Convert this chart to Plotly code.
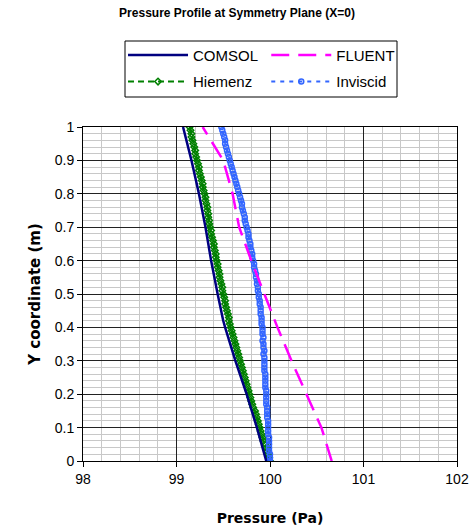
import plotly.graph_objects as go

# ---- data ----
comsol_y = [0.0, 0.1, 0.2, 0.3, 0.4, 0.42, 0.5, 0.6, 0.7, 0.8, 0.9, 1.0]
comsol_p = [99.96, 99.86, 99.75, 99.63, 99.52, 99.50, 99.44, 99.37, 99.31, 99.24, 99.16, 99.07]

fluent_y = [0.0, 0.1, 0.2, 0.3, 0.4, 0.5, 0.6, 0.7, 0.8, 0.9, 1.0]
fluent_p = [100.66, 100.55, 100.39, 100.23, 100.08, 99.94, 99.80, 99.67, 99.60, 99.50, 99.28]

dense_y = [0.00, 0.01, 0.02, 0.03, 0.04, 0.05, 0.06, 0.07, 0.08, 0.09,
           0.10, 0.11, 0.12, 0.13, 0.14, 0.15, 0.16, 0.17, 0.18, 0.19,
           0.20, 0.21, 0.22, 0.23, 0.24, 0.25, 0.26, 0.27, 0.28, 0.29,
           0.30, 0.31, 0.32, 0.33, 0.34, 0.35, 0.36, 0.37, 0.38, 0.39,
           0.40, 0.41, 0.42, 0.43, 0.44, 0.45, 0.46, 0.47, 0.48, 0.49,
           0.50, 0.51, 0.52, 0.53, 0.54, 0.55, 0.56, 0.57, 0.58, 0.59,
           0.60, 0.61, 0.62, 0.63, 0.64, 0.65, 0.66, 0.67, 0.68, 0.69,
           0.70, 0.71, 0.72, 0.73, 0.74, 0.75, 0.76, 0.77, 0.78, 0.79,
           0.80, 0.81, 0.82, 0.83, 0.84, 0.85, 0.86, 0.87, 0.88, 0.89,
           0.90, 0.91, 0.92, 0.93, 0.94, 0.95, 0.96, 0.97, 0.98, 0.99, 1.00]

hiemenz_p = [100.00, 99.99, 99.98, 99.97, 99.96, 99.95, 99.93, 99.92, 99.91, 99.90,
             99.89, 99.88, 99.87, 99.86, 99.85, 99.84, 99.82, 99.81, 99.80, 99.79,
             99.78, 99.77, 99.76, 99.75, 99.74, 99.73, 99.72, 99.71, 99.70, 99.69,
             99.68, 99.67, 99.66, 99.65, 99.64, 99.63, 99.62, 99.61, 99.60, 99.59,
             99.58, 99.57, 99.56, 99.56, 99.55, 99.54, 99.53, 99.52, 99.52, 99.51,
             99.50, 99.49, 99.49, 99.48, 99.47, 99.46, 99.46, 99.45, 99.44, 99.44,
             99.43, 99.42, 99.42, 99.41, 99.40, 99.40, 99.39, 99.38, 99.37, 99.37,
             99.36, 99.35, 99.35, 99.34, 99.34, 99.33, 99.33, 99.32, 99.31, 99.31,
             99.30, 99.29, 99.28, 99.28, 99.27, 99.26, 99.25, 99.24, 99.24, 99.23,
             99.22, 99.21, 99.20, 99.20, 99.19, 99.18, 99.17, 99.16, 99.16, 99.15, 99.14]

inviscid_p = [100.00, 100.00, 100.00, 99.99, 99.99, 99.99, 99.99, 99.99, 99.98, 99.98,
              99.98, 99.98, 99.98, 99.97, 99.97, 99.97, 99.97, 99.96, 99.96, 99.96,
              99.96, 99.96, 99.95, 99.95, 99.95, 99.95, 99.95, 99.94, 99.94, 99.94,
              99.94, 99.94, 99.93, 99.94, 99.93, 99.93, 99.92, 99.93, 99.92, 99.92,
              99.92, 99.91, 99.91, 99.91, 99.90, 99.90, 99.90, 99.89, 99.89, 99.88,
              99.88, 99.87, 99.87, 99.86, 99.86, 99.85, 99.85, 99.84, 99.83, 99.83,
              99.82, 99.81, 99.81, 99.80, 99.79, 99.79, 99.78, 99.77, 99.77, 99.76,
              99.75, 99.74, 99.73, 99.73, 99.72, 99.71, 99.70, 99.70, 99.69, 99.68,
              99.67, 99.66, 99.65, 99.64, 99.63, 99.62, 99.61, 99.60, 99.59, 99.58,
              99.57, 99.56, 99.55, 99.54, 99.53, 99.52, 99.52, 99.51, 99.50, 99.49, 99.48]

x_ticks = [98, 99, 100, 101, 102]
y_ticks = [0, 0.1, 0.2, 0.3, 0.4, 0.5, 0.6, 0.7, 0.8, 0.9, 1]
y_tick_labels = ["0", "0.1", "0.2", "0.3", "0.4", "0.5", "0.6", "0.7", "0.8", "0.9", "1"]

FONT = "Liberation Sans, Arial, sans-serif"
WIDE = "DejaVu Sans, Verdana, sans-serif"

fig = go.Figure()
fig.add_trace(go.Scatter(x=hiemenz_p, y=dense_y, name="Hiemenz", mode="lines+markers",
                         line=dict(color="#008000", width=2, dash="6px,4px"),
                         marker=dict(symbol="diamond-open", size=5, color="#008000", line=dict(width=1.5)),
                         legend="legend", legendrank=2, legendgroup="h"))
fig.add_trace(go.Scatter(x=inviscid_p, y=dense_y, name="Inviscid", mode="lines+markers",
                         line=dict(color="#3366FF", width=2, dash="4px,5px"),
                         marker=dict(symbol="circle-open", size=5, color="#3366FF", line=dict(width=1.5)),
                         legend="legend2", legendrank=2, legendgroup="i"))
fig.add_trace(go.Scatter(x=fluent_p, y=fluent_y, name="FLUENT", mode="lines",
                         line=dict(color="#FF00FF", width=2.5, dash="18px,9px"),
                         legend="legend2", legendrank=1, legendgroup="f"))
fig.add_trace(go.Scatter(x=comsol_p, y=comsol_y, name="COMSOL", mode="lines",
                         line=dict(color="#000080", width=2.5),
                         legend="legend", legendrank=1, legendgroup="c"))

leg_common = dict(font=dict(family=FONT, size=15, color="black"), bgcolor="rgba(0,0,0,0)",
                  borderwidth=0, itemwidth=60, tracegroupgap=4, orientation="v",
                  xanchor="left", yanchor="top", traceorder="grouped")

fig.update_layout(
    width=474, height=529,
    margin=dict(l=83, r=17, t=127, b=68, autoexpand=False),
    paper_bgcolor="white", plot_bgcolor="white",
    font=dict(family=FONT, size=13, color="black"),
    title=dict(text="<b>Pressure Profile at Symmetry Plane (X=0)</b>",
               font=dict(family=FONT, size=12, color="black"),
               x=0.5, xref="container", xanchor="center", y=1 - 13 / 529, yref="container", yanchor="middle"),
    showlegend=True,
    legend=dict(x=0.107, y=1.264, **leg_common),
    legend2=dict(x=0.49, y=1.264, **leg_common),
    xaxis=dict(range=[98, 102], tickvals=x_ticks, ticktext=[str(v) for v in x_ticks],
               automargin=False,
               showgrid=True, gridcolor="#222222", gridwidth=1,
               minor=dict(dtick=0.2, showgrid=True, gridcolor="#c8c8c8", gridwidth=1),
               showline=True, linecolor="black", linewidth=1, mirror=True,
               ticks="outside", ticklen=5, tickcolor="black",
               tickfont=dict(family=FONT, size=14), zeroline=False,
               title=dict(text="<b>Pressure (Pa)</b>", font=dict(family=WIDE, size=14), standoff=27)),
    yaxis=dict(range=[0, 1], tickvals=y_ticks, ticktext=y_tick_labels,
               automargin=False,
               showgrid=True, gridcolor="#222222", gridwidth=1,
               minor=dict(dtick=0.02, showgrid=True, gridcolor="#c8c8c8", gridwidth=1),
               showline=True, linecolor="black", linewidth=1, mirror=True,
               ticks="outside", ticklen=5, tickcolor="black",
               tickfont=dict(family=FONT, size=14), zeroline=False,
               title=dict(text="<b>Y coordinate (m)</b>", font=dict(family=WIDE, size=15), standoff=10)),
    shapes=[dict(type="rect", xref="paper", yref="paper",
                 x0=(125 - 83) / 374, x1=(397 - 83) / 374,
                 y0=(461 - 97) / 334, y1=(461 - 41) / 334,
                 line=dict(color="black", width=1), fillcolor="rgba(0,0,0,0)")],
)

fig.write_html("out.html", config={"displayModeBar": False},
               post_script="document.body.style.margin='0';document.body.style.overflow='hidden';")
